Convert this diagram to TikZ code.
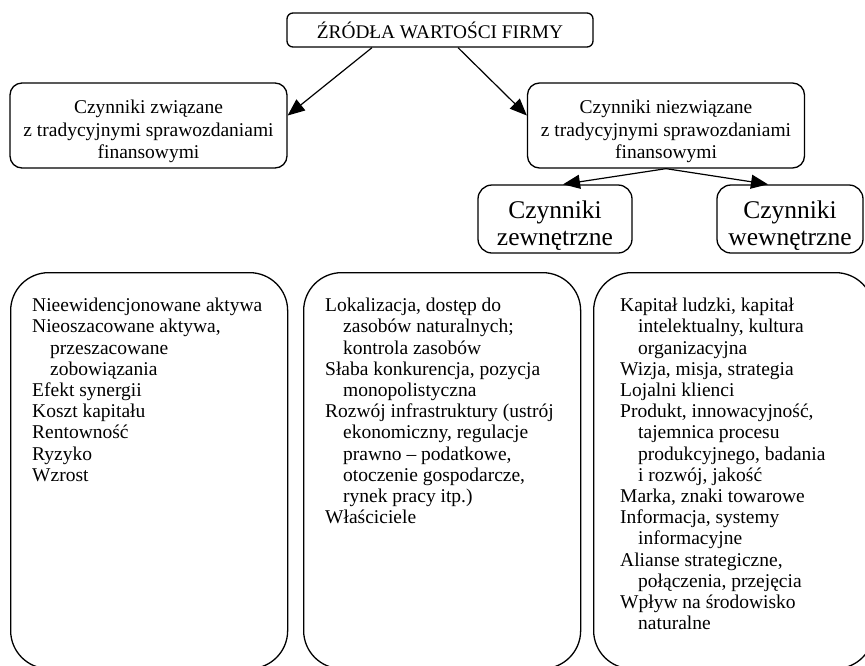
\documentclass[tikz,border=0pt]{standalone}
\usepackage{fontspec}
\setmainfont{Liberation Serif}
\usetikzlibrary{shapes, arrows.meta, positioning, calc}
\newcommand{\ind}{\hspace*{18pt}}
\newcommand{\lowerby}[1]{\rule{0pt}{#1}}
\tikzset{
    headbox/.style={
        rectangle,
        rounded corners=6pt,
        draw=black,
        fill=white,
        line width=1.3pt,
        align=center,
        inner sep=0pt,
        minimum width=306pt,
        minimum height=34pt,
        font=\fontsize{19.3}{22}\selectfont
    },
    groupbox/.style={
        rectangle,
        rounded corners=12pt,
        draw=black,
        line width=1.3pt,
        align=center,
        inner sep=0pt,
        minimum width=277pt,
        minimum height=85pt,
        font=\fontsize{19.5}{22.5}\selectfont
    },
    factorbox/.style={
        rectangle,
        rounded corners=14pt,
        draw=black,
        line width=1.3pt,
        align=center,
        inner sep=0pt,
        minimum height=68pt,
        font=\fontsize{25.5}{27}\selectfont
    },
    % Lists at the bottom
    listbox/.style={
        rectangle,
        rounded corners=38pt,
        draw=black,
        line width=1.3pt,
        anchor=north west,
        minimum width=277pt,
        minimum height=396pt
    },
    listtext/.style={
        align=left,
        anchor=north west,
        inner sep=0pt,
        font=\fontsize{19.5}{21.2}\selectfont
    },
    arrow/.style={
        -{Triangle[length=17pt,width=14pt]},
        line width=1.2pt
    },
}

\begin{document}
\begin{tikzpicture}[x=1pt, y=1pt]
    \clip (0,0) rectangle (865,-665);

    \node[headbox] (src) at (440,-30) {ŹRÓDŁA WARTOŚCI FIRMY};
    \node[groupbox] (trad) at (148.5,-125.5) {\lowerby{26pt}Czynniki związane\\ z tradycyjnymi sprawozdaniami\\ finansowymi};
    \node[groupbox] (nontrad) at (666,-125.5) {\lowerby{26pt}Czynniki niezwiązane\\ z tradycyjnymi sprawozdaniami\\ finansowymi};
    \node[factorbox, minimum width=154pt] (ext) at (555,-219) {\lowerby{32pt}Czynniki\\ zewnętrzne};
    \node[factorbox, minimum width=146pt] (int) at (790,-219) {\lowerby{32pt}Czynniki\\ wewnętrzne};

    \draw[arrow] ($(src.south)+(-68,0)$) -- ($(trad.east)+(0,10)$);
    \draw[arrow] ($(src.south)+(18,0)$) -- ($(nontrad.west)+(0,10)$);
    \draw[arrow] (nontrad.south) -- ($(ext.north)+(8,0)$);
    \draw[arrow] (nontrad.south) -- ($(int.north)+(-22,0)$);

    \node[listbox] (list1) at (10,-272) {};
    \node[listbox] (list2) at (303,-272) {};
    \node[listbox, minimum width=280pt] (list3) at (593,-272) {};

    \node[listtext] (items1) at ($(list1.north west)+(22,-26)$) {%
        Nieewidencjonowane aktywa\\
        Nieoszacowane aktywa,\\
        \ind przeszacowane\\
        \ind zobowiązania\\
        Efekt synergii\\
        Koszt kapitału\\
        Rentowność\\
        Ryzyko\\
        Wzrost};
    \node[listtext] (items2) at ($(list2.north west)+(22,-26)$) {%
        Lokalizacja, dostęp do\\
        \ind zasobów naturalnych;\\
        \ind kontrola zasobów\\
        Słaba konkurencja, pozycja\\
        \ind monopolistyczna\\
        Rozwój infrastruktury (ustrój\\
        \ind ekonomiczny, regulacje\\
        \ind prawno – podatkowe,\\
        \ind otoczenie gospodarcze,\\
        \ind rynek pracy itp.)\\
        Właściciele};
    \node[listtext] (items3) at ($(list3.north west)+(27,-26)$) {%
        Kapitał ludzki, kapitał\\
        \ind intelektualny, kultura\\
        \ind organizacyjna\\
        Wizja, misja, strategia\\
        Lojalni klienci\\
        Produkt, innowacyjność,\\
        \ind tajemnica procesu\\
        \ind produkcyjnego, badania\\
        \ind i rozwój, jakość\\
        Marka, znaki towarowe\\
        Informacja, systemy\\
        \ind informacyjne\\
        Alianse strategiczne,\\
        \ind połączenia, przejęcia\\
        Wpływ na środowisko\\
        \ind naturalne};
\end{tikzpicture}
\end{document}
